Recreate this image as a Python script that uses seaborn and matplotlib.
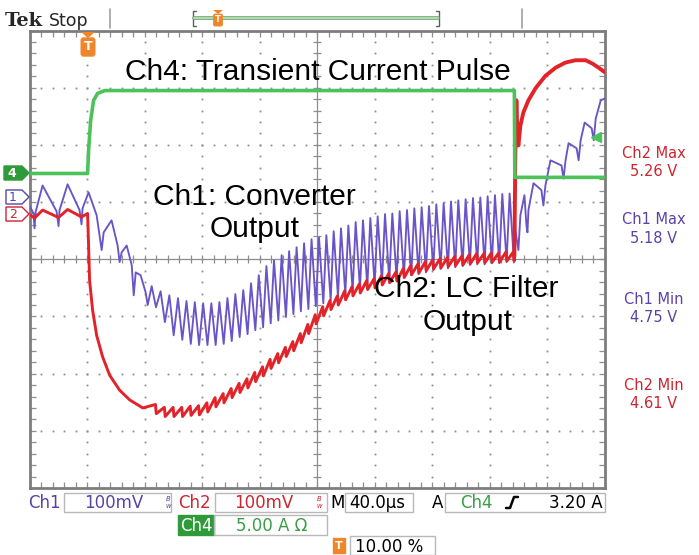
import matplotlib
matplotlib.use("Agg")
import matplotlib.pyplot as plt
import matplotlib.transforms as mtransforms
import seaborn as sns
import numpy as np
from matplotlib.patches import Rectangle, Polygon
from matplotlib.lines import Line2D

# ---------------- data (read from the scope screen) ----------------
# time in microseconds (40 us/div, trigger at 10 %), Ch1/Ch2 in volts, Ch4 in amps
ch1_pre_t = [-40.0, -37.2, -36.5, -35.8, -30.9, -21.2, -19.8, -19.1, -13.5, -5.2, -3.8, -3.1, 1.1,
             6.7, 10.2, 11.6, 17.1, 21.3, 22.7, 24.1, 27.6, 31.1, 32.5, 33.9, 37.3, 40.8, 42.2]
ch1_pre_v = [4.994, 4.980, 4.954, 4.982, 5.029, 4.984, 4.958, 4.986, 5.031, 4.986, 4.961, 4.989, 5.017,
             4.977, 4.916, 4.947, 4.968, 4.924, 4.895, 4.912, 4.924, 4.890, 4.837, 4.877, 4.872, 4.842, 4.820]

ripple_cycle_t = [45.0, 51.2, 57.3, 63.3, 69.2, 75.0, 80.8, 86.5, 92.1, 97.7,
                  103.2, 108.7, 114.1, 119.5, 124.8, 130.1, 135.4, 140.6, 145.8, 151.0,
                  156.2, 161.4, 166.5, 171.6, 176.7, 181.8, 186.9, 192.0, 197.1, 202.2,
                  207.3, 212.4, 217.5, 222.6, 227.7, 232.8, 237.9, 243.0, 248.1, 253.2,
                  258.3, 263.4, 268.5, 273.6, 278.7, 283.8, 288.9, 294.0]
ch1_peak_v = [4.853, 4.844, 4.837, 4.832, 4.827, 4.825, 4.823, 4.823, 4.825, 4.832,
              4.839, 4.846, 4.858, 4.872, 4.888, 4.898, 4.907, 4.914, 4.921, 4.928,
              4.935, 4.938, 4.942, 4.949, 4.954, 4.959, 4.965, 4.968, 4.972, 4.975,
              4.979, 4.980, 4.984, 4.986, 4.989, 4.991, 4.993, 4.996, 4.998, 5.001,
              5.003, 5.005, 5.007, 5.008, 5.010, 5.012, 5.014, 5.015]
ch1_spike_v = [4.816, 4.790, 4.767, 4.759, 4.752, 4.750, 4.750, 4.750, 4.752, 4.757,
               4.764, 4.769, 4.776, 4.781, 4.788, 4.793, 4.799, 4.804, 4.809, 4.813,
               4.818, 4.823, 4.828, 4.834, 4.839, 4.844, 4.848, 4.851, 4.855, 4.858,
               4.862, 4.865, 4.869, 4.872, 4.874, 4.877, 4.881, 4.883, 4.884, 4.886,
               4.888, 4.890, 4.891, 4.891, 4.893, 4.893, 4.895, 4.895]
ch1_spike_delay = 3.0   # us between ripple peak and switching spike

ch1_post_t = [297.3, 298.0, 300.1, 301.5, 304.3, 305.7, 306.4, 307.1, 310.6, 316.1,
              317.5, 318.9, 322.4, 330.1, 331.5, 332.9, 335.0, 340.6, 342.0, 343.4,
              346.2, 351.1, 352.5, 353.9, 357.4, 360.2]
ch1_post_v = [5.003, 4.951, 4.916, 4.977, 5.012, 4.959, 4.947, 4.986, 5.033, 5.021,
              4.994, 5.029, 5.073, 5.064, 5.041, 5.073, 5.103, 5.094, 5.073, 5.108,
              5.139, 5.129, 5.108, 5.146, 5.178, 5.181]

ch2_pre_t = [-40.0, -36.5, -30.9, -19.8, -13.5, -3.8, 0.4, 1.1, 1.8, 3.9, 6.7, 10.9, 15.8, 22.7, 29.7, 38.8]
ch2_pre_v = [4.978, 4.972, 4.986, 4.973, 4.987, 4.974, 4.980, 4.924, 4.863, 4.811, 4.767, 4.729,
             4.697, 4.671, 4.654, 4.640]
ch2_level_v = [4.638, 4.633, 4.633, 4.633, 4.635, 4.636, 4.641, 4.650, 4.657, 4.666,
               4.675, 4.683, 4.694, 4.704, 4.717, 4.727, 4.738, 4.748, 4.762, 4.778,
               4.795, 4.809, 4.820, 4.828, 4.837, 4.844, 4.849, 4.855, 4.858, 4.863,
               4.867, 4.870, 4.876, 4.881, 4.884, 4.888, 4.891, 4.893, 4.895, 4.897,
               4.898, 4.900, 4.902, 4.902, 4.903, 4.903, 4.905, 4.905]
ch2_ripple = 0.008
ch2_post_t = [297.3, 298.0, 298.7, 299.4, 300.1, 301.5, 303.6, 307.1, 312.0, 319.0, 326.0,
              332.9, 339.9, 346.9, 351.7, 355.9, 360.2]
ch2_post_v = [4.905, 5.090, 5.178, 5.117, 5.099, 5.134, 5.157, 5.178, 5.199, 5.221, 5.235,
              5.244, 5.248, 5.248, 5.242, 5.235, 5.227]

ch4_t = [-40.0, 0.4, 1.1, 2.5, 4.6, 7.4, 12.3, 297.3, 297.6, 360.2]
ch4_a = [0.0, 0.0, 2.0, 4.6, 6.4, 7.0, 7.25, 7.25, -0.34, -0.34]
ch4_trigger_a = 3.20

meas_labels = ["Ch2 Max", "Ch1 Max", "Ch1 Min", "Ch2 Min"]
meas_values = ["5.26 V", "5.18 V", "4.75 V", "4.61 V"]

# ---------------- style ----------------
sns.set_style("white")
plt.rcParams['font.family'] = ['DejaVu Sans']

PURPLE = '#6a55c8'
PURPLE_T = '#5a43a8'
RED = '#e2232a'
RED_T = '#cc2630'
GREEN = '#4cc35a'
GREEN_T = '#3a9e46'
GREEN_BOX = '#2f9a3a'
ORANGE = '#f0862a'
GRID = '#8e8e8e'

W, H = 699, 555
fig = plt.figure(figsize=(W / 100, H / 100), dpi=100, facecolor='white')
ax = fig.add_axes([29.5 / W, 1 - 488 / H, 575 / W, 457.5 / H])
ax2 = ax.twinx()


def fx(x):
    return x / W


def fy(y):
    return 1 - y / H


def ftext(x, y, s, **kw):
    return fig.text(fx(x), fy(y), s, **kw)


def frect(x0, y0, x1, y1, **kw):
    fig.add_artist(Rectangle((fx(x0), fy(y1)), (x1 - x0) / W, (y1 - y0) / H,
                             transform=fig.transFigure, **kw))


def fline(xs, ys, **kw):
    fig.add_artist(Line2D([fx(x) for x in xs], [fy(y) for y in ys],
                          transform=fig.transFigure, **kw))


def fpoly(pts, **kw):
    fig.add_artist(Polygon([(fx(x), fy(y)) for x, y in pts], closed=True,
                           transform=fig.transFigure, **kw))


# screen scales: 40 us/div, 100 mV/div (centre 4.90 V), Ch4 5 A/div with ground 1.5 div above centre
ax.set_xlim(-40, 360)
ax.set_ylim(4.50, 5.30)
ax2.set_ylim(-27.5, 12.5)
ax.set_facecolor('white')

# graticule
major_x = np.arange(-40, 361, 40)
major_y = np.round(np.arange(4.5, 5.3001, 0.1), 3)
fine_x = np.arange(-40, 360.01, 8)
fine_y = np.round(np.arange(4.5, 5.3001, 0.02), 3)
dx, dy = [], []
for x in major_x[1:-1]:
    if x == 160:
        continue
    dx += [x] * len(fine_y)
    dy += list(fine_y)
for y in major_y[1:-1]:
    if abs(y - 4.9) < 1e-6:
        continue
    dx += list(fine_x)
    dy += [y] * len(fine_x)
ax.plot(dx, dy, ls='none', marker='s', ms=1.3, mfc=GRID, mec='none', zorder=1)
ax.axvline(160, color=GRID, lw=0.9, zorder=1)
ax.axhline(4.9, color=GRID, lw=0.9, zorder=1)
ax.plot([160] * len(fine_y), fine_y, ls='none', marker='_', ms=6, mew=0.9, color=GRID, zorder=1)
ax.plot(fine_x, [4.9] * len(fine_x), ls='none', marker='|', ms=6, mew=0.9, color=GRID, zorder=1)

ax.set_xticks(major_x)
ax.set_xticks(fine_x, minor=True)
ax.set_yticks(major_y)
ax.set_yticks(fine_y, minor=True)
ax.tick_params(which='both', direction='in', length=4.5, width=0.9, color=GRID,
               top=True, right=True, bottom=True, left=True,
               labelbottom=False, labelleft=False, labeltop=False, labelright=False)
for sp in ax.spines.values():
    sp.set_color('#7d7d7d')
    sp.set_linewidth(2.0)
ax2.set_axis_off()

# ---------------- traces ----------------
t1, v1 = list(ch1_pre_t), list(ch1_pre_v)
for t, pk, spk in zip(ripple_cycle_t, ch1_peak_v, ch1_spike_v):
    t1 += [t, t + ch1_spike_delay]
    v1 += [pk, spk]
t1 += ch1_post_t
v1 += ch1_post_v

t2, v2 = list(ch2_pre_t), list(ch2_pre_v)
for t, lv in zip(ripple_cycle_t, ch2_level_v):
    t2 += [t + 2.6, t + 3.2]
    v2 += [lv + ch2_ripple, lv - ch2_ripple]
t2.append(ch2_post_t[0])
v2.append(ch2_post_v[0])

sns.lineplot(x=t1, y=v1, ax=ax, color=PURPLE, linewidth=1.35, estimator=None, sort=False,
             legend=False, zorder=3)
sns.lineplot(x=t2, y=v2, ax=ax, color=RED, linewidth=2.1, estimator=None, sort=False,
             legend=False, zorder=4)
sns.lineplot(x=ch2_post_t, y=ch2_post_v, ax=ax, color=RED, linewidth=2.8, estimator=None,
             sort=False, legend=False, zorder=4)
sns.lineplot(x=ch4_t, y=ch4_a, ax=ax2, color=GREEN, linewidth=2.6, estimator=None, sort=False,
             legend=False, zorder=3)
ax.set_xlabel('')
ax.set_ylabel('')
ax2.set_ylabel('')
# Ch4 trigger level arrow at right edge
blend = mtransforms.blended_transform_factory(ax2.transAxes, ax2.transData)
ax2.plot([0.985], [ch4_trigger_a], marker='<', ms=7, color=GREEN, transform=blend, clip_on=False)

# ---------------- annotations ----------------
big = dict(family='Liberation Sans', fontsize=21.5, color='black', va='baseline')
ftext(125, 80, "Ch4: Transient Current Pulse", ha='left', **big)
ftext(153, 205, "Ch1: Converter", ha='left', **big)
ftext(255, 237, "Output", ha='center', **big)
ftext(374, 297, "Ch2: LC Filter", ha='left', **big)
ftext(468, 330, "Output", ha='center', **big)

# measurements on the right
meas_colors = [RED_T, PURPLE_T, PURPLE_T, RED_T]
meas_y = [153, 220, 300, 385]
for lab, val, col, y in zip(meas_labels, meas_values, meas_colors, meas_y):
    ftext(654, y, lab, ha='center', va='center', fontsize=10.5, color=col)
    ftext(654, y + 18, val, ha='center', va='center', fontsize=10.5, color=col)

# header
ftext(5, 26, "Tek", family='DejaVu Serif', weight='bold', fontsize=14, va='baseline')
ftext(49, 26, "Stop", fontsize=12.5, va='baseline')
fline([110, 110], [9, 28], color='#a0a0a0', lw=1.2)
fline([522, 522], [9, 28], color='#a0a0a0', lw=1.2)
fline([196, 193, 193, 196], [11, 11, 26, 26], color='#606060', lw=1.0)
fline([436, 439, 439, 436], [11, 11, 26, 26], color='#606060', lw=1.0)
fline([194, 438], [18, 18], color='#7a9a7a', lw=2.6)
fline([194, 438], [18, 18], color='#a8e0a8', lw=1.4)
fpoly([(213, 10), (223, 10), (218, 14)], color=ORANGE, lw=0)
ftext(218, 20, "T", ha='center', va='center', fontsize=6, color='white', weight='bold',
      bbox=dict(boxstyle='round,pad=0.15', fc=ORANGE, ec=ORANGE))

# trigger marker on screen top
fpoly([(81, 32), (95, 32), (88, 38)], color=ORANGE, lw=0)
ftext(88, 47, "T", ha='center', va='center', fontsize=9, color='white', weight='bold',
      bbox=dict(boxstyle='round,pad=0.2', fc=ORANGE, ec=ORANGE))

# channel markers on the left
fpoly([(4, 166), (22, 166), (29, 173), (22, 180), (4, 180)], fc=GREEN_BOX, ec=GREEN_BOX, lw=1)
ftext(12, 173.5, "4", ha='center', va='center', fontsize=9, color='white', weight='bold')
fpoly([(6, 190), (22, 190), (29, 197), (22, 204), (6, 204)], fc='white', ec=PURPLE_T, lw=1)
ftext(13, 197.5, "1", ha='center', va='center', fontsize=9, color=PURPLE_T)
fpoly([(6, 207), (22, 207), (29, 214), (22, 221), (6, 221)], fc='white', ec=RED_T, lw=1)
ftext(13, 214.5, "2", ha='center', va='center', fontsize=9, color=RED_T)

# ---------------- status bar ----------------
BOX = '#b8b8b8'
fs = 12
frect(64, 493, 171, 512, fc='none', ec=BOX, lw=1)
frect(215, 493, 327, 512, fc='none', ec=BOX, lw=1)
frect(345, 493, 413, 512, fc='none', ec=BOX, lw=1)
frect(445, 493, 605, 512, fc='none', ec=BOX, lw=1)
ftext(28, 508, "Ch1", color=PURPLE_T, fontsize=fs, va='baseline')
ftext(84, 508, "100mV", color=PURPLE_T, fontsize=fs, va='baseline')
ftext(165, 506, r"$^{B}_{w}$", color=PURPLE_T, fontsize=7, va='baseline')
ftext(178, 508, "Ch2", color=RED_T, fontsize=fs, va='baseline')
ftext(234, 508, "100mV", color=RED_T, fontsize=fs, va='baseline')
ftext(316, 506, r"$^{B}_{w}$", color=RED_T, fontsize=7, va='baseline')
ftext(330, 508, "M", color='black', fontsize=fs, va='baseline')
ftext(349, 508, "40.0\u00b5s", color='black', fontsize=fs, va='baseline')
ftext(432, 508, "A", color='black', fontsize=fs, va='baseline')
ftext(460, 508, "Ch4", color=GREEN_T, fontsize=fs, va='baseline')
fline([506, 510, 514, 518], [508, 508, 497, 497], color='black', lw=1.8)
ftext(603, 508, "3.20 A", color='black', fontsize=fs, va='baseline', ha='right')

frect(178, 515, 214, 535, fc=GREEN_BOX, ec=GREEN_BOX, lw=1)
ftext(196, 531, "Ch4", color='white', fontsize=fs, va='baseline', ha='center')
frect(214, 515, 327, 535, fc='none', ec=BOX, lw=1)
ftext(236, 531, "5.00 A \u03a9", color=GREEN_T, fontsize=fs, va='baseline')

frect(333, 538, 345, 553, fc=ORANGE, ec=ORANGE, lw=1)
ftext(339, 546, "T", color='white', fontsize=8, va='center', ha='center', weight='bold')
frect(350, 536, 435, 555, fc='none', ec=BOX, lw=1)
ftext(355, 552, "10.00 %", color='black', fontsize=fs, va='baseline')

fig.savefig("out.png", dpi=100, facecolor='white')
